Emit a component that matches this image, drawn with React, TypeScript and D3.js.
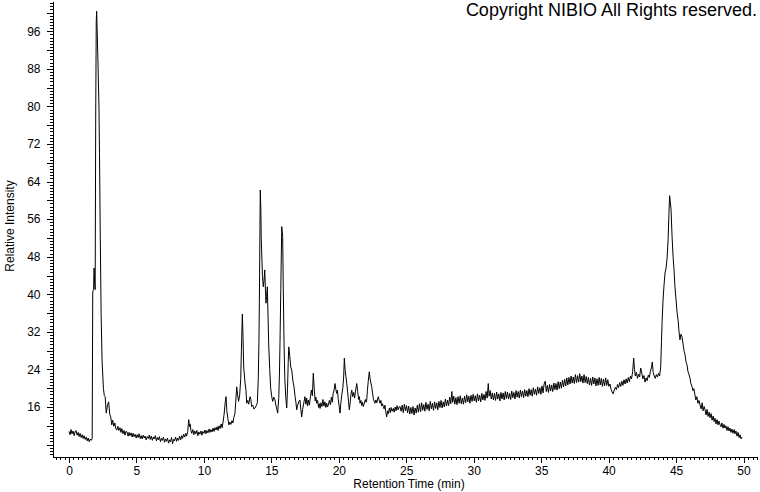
import React, { useEffect, useRef } from 'react'
import * as d3 from 'd3'

// retention time (min), relative intensity
const startBaseline: [number, number][] = [
  [0, 10.8], [0.08, 10.1], [0.15, 11.2], [0.22, 10.3], [0.3, 10.9], [0.38, 9.9], [0.45, 10.7], [0.52, 11.0],
  [0.6, 10.0], [0.68, 10.6], [0.75, 9.7], [0.82, 10.4], [0.9, 9.5], [0.98, 10.1], [1.05, 9.3], [1.12, 9.9],
  [1.2, 9.1], [1.28, 9.6], [1.35, 8.8], [1.42, 9.4], [1.5, 8.6], [1.58, 9.2], [1.65, 8.9], [1.72, 9.3]
]

const solventPeak: [number, number][] = [
  [1.74, 26], [1.76, 40.5], [1.82, 41], [1.86, 45.6], [1.9, 42.5], [1.94, 41], [1.98, 78], [2.02, 98],
  [2.05, 100.3], [2.1, 95], [2.15, 89], [2.22, 80], [2.26, 70], [2.32, 52], [2.38, 36], [2.45, 26],
  [2.55, 20], [2.62, 18.4], [2.68, 18.2], [2.76, 14.7], [2.86, 16.5], [2.94, 17.1], [3.02, 14.5], [3.1, 13.8],
  [3.17, 12.2], [3.24, 13.2], [3.32, 11.9], [3.4, 12.6], [3.47, 11.4], [3.54, 11.1], [3.62, 11.9], [3.7, 11.0],
  [3.78, 11.6]
]

const earlyBaseline: [number, number][] = [
  [3.85, 10.6], [3.92, 11.4], [4.0, 10.3], [4.08, 11.0], [4.15, 10.0], [4.22, 10.8], [4.3, 10.7], [4.38, 9.8],
  [4.45, 10.6], [4.52, 9.9], [4.6, 10.5], [4.68, 9.6], [4.75, 10.4], [4.82, 9.7], [4.9, 10.2], [4.98, 9.4],
  [5.05, 10.1], [5.12, 9.5], [5.2, 10.3], [5.28, 9.3], [5.35, 9.9], [5.42, 9.2], [5.5, 10.0], [5.58, 9.4],
  [5.65, 9.8], [5.72, 9.0], [5.8, 9.7], [5.88, 9.3], [5.95, 10.0], [6.02, 9.1], [6.1, 9.8], [6.18, 8.9],
  [6.25, 9.6], [6.32, 9.2], [6.4, 9.9], [6.48, 8.8], [6.55, 9.5], [6.62, 9.0], [6.7, 9.7], [6.78, 8.6],
  [6.85, 9.3], [6.92, 8.9], [7.0, 9.6], [7.08, 8.5], [7.15, 9.2], [7.22, 8.7], [7.3, 9.4], [7.38, 8.3],
  [7.45, 9.0], [7.52, 8.6], [7.6, 9.5], [7.68, 8.2], [7.75, 9.1], [7.82, 8.8], [7.9, 9.6], [7.98, 8.7],
  [8.05, 9.4], [8.12, 8.9], [8.2, 9.8], [8.28, 9.0], [8.35, 9.9], [8.42, 9.3], [8.5, 10.2], [8.58, 9.6],
  [8.65, 10.4], [8.72, 9.8], [8.8, 10.8], [8.85, 12.5], [8.88, 13.3], [8.93, 11.8], [8.98, 12.4], [9.04, 11.0],
  [9.1, 10.4], [9.18, 11.2], [9.25, 10.1], [9.32, 10.9], [9.4, 10.3], [9.48, 11.0], [9.55, 9.9], [9.62, 10.7],
  [9.7, 10.2], [9.78, 10.9], [9.85, 10.0], [9.92, 10.8], [10.0, 10.4], [10.08, 11.1], [10.15, 10.3], [10.22, 11.0],
  [10.3, 10.5], [10.38, 11.3], [10.45, 10.6], [10.52, 11.2], [10.6, 10.7], [10.68, 11.5], [10.75, 10.8], [10.82, 11.6],
  [10.9, 11.1], [10.98, 11.8], [11.05, 11.0], [11.12, 12.0], [11.2, 11.4], [11.28, 12.4], [11.35, 11.6]
]

const middlePeaks: [number, number][] = [
  [11.42, 12.8], [11.5, 14.5], [11.58, 17], [11.64, 18.2], [11.7, 15.2], [11.78, 13.5], [11.85, 12.2], [11.92, 12.8],
  [12.0, 12.3], [12.08, 13.1], [12.15, 12.6], [12.22, 13.8], [12.3, 14.6], [12.37, 17.5], [12.43, 20.3], [12.5, 18.6],
  [12.57, 17.2], [12.65, 18.5], [12.73, 22], [12.78, 28], [12.85, 35.8], [12.9, 31], [12.95, 24.5], [13.05, 21.1],
  [13.12, 19.5], [13.17, 16.8], [13.25, 17.4], [13.32, 16.6], [13.42, 18.2], [13.48, 17.6], [13.54, 16.1], [13.62, 16.4],
  [13.7, 15.6], [13.79, 15.8], [13.88, 16.3], [13.96, 16.9], [14.03, 22], [14.08, 30], [14.11, 38.1], [14.15, 52],
  [14.18, 62.2], [14.22, 58], [14.25, 52], [14.28, 49.4], [14.34, 44], [14.4, 41.6], [14.46, 43], [14.51, 45.2],
  [14.56, 41], [14.6, 38.1], [14.65, 39.5], [14.7, 41.6], [14.75, 36], [14.8, 29.6], [14.88, 24], [14.95, 20],
  [15.03, 18.2], [15.1, 17.2], [15.18, 18.1], [15.27, 17.5], [15.35, 16.2], [15.42, 15.4], [15.47, 14.7], [15.55, 18],
  [15.6, 23], [15.64, 29.6], [15.7, 41], [15.77, 54.4], [15.84, 52.3], [15.88, 42], [15.94, 29.6], [16.0, 22],
  [16.07, 18], [16.14, 15.8], [16.2, 20], [16.25, 25.5], [16.29, 28.8], [16.36, 27], [16.44, 24.5], [16.51, 23.9],
  [16.6, 21.5], [16.68, 20.3], [16.76, 18.2], [16.82, 17], [16.88, 15.4], [16.95, 16.4], [17.03, 17.1], [17.12, 17.5],
  [17.18, 15.6], [17.25, 13.9], [17.32, 15.5], [17.4, 16.8], [17.49, 18.2], [17.56, 16.6], [17.62, 17.9], [17.68, 16.2],
  [17.74, 17.5], [17.82, 16.4], [17.9, 18.3], [17.97, 19.6], [18.04, 18.4], [18.11, 23.2], [18.18, 19.8], [18.25, 17.3],
  [18.3, 18.1], [18.36, 16.8], [18.43, 17.4], [18.5, 15.9], [18.56, 16.7], [18.61, 15.7], [18.68, 16.9], [18.75, 16.1],
  [18.82, 17.6], [18.9, 16.2], [18.97, 17.1], [19.04, 15.9], [19.1, 16.8], [19.16, 16.0], [19.22, 16.4], [19.3, 17.4],
  [19.38, 16.5], [19.45, 18.1], [19.52, 17.0], [19.58, 18.9], [19.65, 19.6], [19.72, 21.0], [19.78, 19.8], [19.84, 18.9],
  [19.9, 19.6], [19.96, 17.6], [20.03, 16.1], [20.09, 14.7], [20.15, 16.8], [20.22, 18.6], [20.3, 20.1], [20.36, 22.4],
  [20.41, 26.4], [20.47, 23.8], [20.53, 22.5], [20.59, 21], [20.65, 19.4], [20.72, 17.2], [20.78, 15.4], [20.85, 17.1],
  [20.9, 18.7], [20.96, 19.6], [21.03, 18.2], [21.1, 19.1], [21.17, 17.9], [21.24, 19.4], [21.33, 21.0], [21.4, 19.3],
  [21.47, 17.6], [21.53, 18.2], [21.57, 16.8], [21.64, 17.4], [21.7, 16.3], [21.76, 17.0], [21.82, 16.1], [21.9, 16.9],
  [21.97, 17.6], [22.02, 17.0], [22.07, 17.5], [22.12, 19.5], [22.18, 21.4], [22.26, 23.5], [22.32, 22.0], [22.38, 21.1],
  [22.44, 20.3], [22.5, 19.0], [22.56, 17.8], [22.62, 17.2], [22.68, 16.8], [22.75, 17.5], [22.82, 16.9], [22.88, 17.8],
  [22.93, 18.2], [23.0, 17.3], [23.06, 16.8], [23.12, 17.4], [23.18, 16.2], [23.24, 16.7], [23.3, 16.1], [23.36, 15.6],
  [23.42, 16.4], [23.48, 15.0], [23.55, 13.9], [23.62, 15.2], [23.68, 14.6], [23.75, 15.8], [23.82, 14.8], [23.88, 15.9],
  [23.95, 15.1], [24.04, 15.7], [24.1, 14.9], [24.18, 16.0], [24.25, 15.2], [24.32, 16.3], [24.4, 15.4], [24.47, 16.0],
  [24.54, 16.1]
]

const lateBaseline: [number, number][] = [
  [24.62, 15.1], [24.7, 16.4], [24.78, 14.8], [24.86, 16.6], [24.94, 15.2], [25.02, 16.3], [25.1, 14.8], [25.18, 16.2],
  [25.26, 14.5], [25.34, 15.9], [25.42, 14.6], [25.5, 16.1], [25.58, 14.3], [25.66, 15.8], [25.74, 14.7], [25.82, 16.4],
  [25.9, 14.9], [25.98, 16.7], [26.06, 15.0], [26.14, 16.9], [26.22, 15.3], [26.3, 16.5], [26.38, 15.1], [26.46, 17.0],
  [26.54, 15.5], [26.62, 16.6], [26.7, 15.2], [26.78, 17.2], [26.86, 15.6], [26.94, 16.8], [27.02, 15.3], [27.1, 17.1],
  [27.18, 15.7], [27.26, 16.9], [27.34, 15.4], [27.42, 17.2], [27.5, 15.9], [27.58, 17.4], [27.66, 15.8], [27.74, 17.1],
  [27.82, 16.0], [27.9, 17.7], [27.98, 16.2], [28.06, 17.5], [28.14, 16.3], [28.22, 18.1], [28.3, 16.7], [28.38, 19.3],
  [28.44, 17.0], [28.52, 18.3], [28.6, 16.6], [28.68, 18.0], [28.76, 16.5], [28.84, 18.2], [28.92, 16.8], [29.0, 18.4],
  [29.08, 16.7], [29.16, 17.9], [29.24, 16.6], [29.32, 18.3], [29.4, 16.9], [29.48, 18.6], [29.56, 17.1], [29.64, 18.3],
  [29.72, 16.8], [29.8, 18.5], [29.88, 17.2], [29.96, 18.7], [30.04, 17.3], [30.12, 18.4], [30.2, 17.0], [30.28, 18.8],
  [30.36, 17.3], [30.44, 18.5], [30.52, 17.1], [30.6, 18.9], [30.68, 17.5], [30.76, 18.7], [30.84, 17.4], [30.92, 19.3],
  [31.0, 17.9], [31.08, 21.0], [31.14, 18.3], [31.22, 19.5], [31.3, 17.7], [31.38, 19.0], [31.46, 17.5], [31.54, 18.9],
  [31.62, 17.4], [31.7, 19.2], [31.78, 17.7], [31.86, 18.8], [31.94, 17.3], [32.02, 19.1], [32.1, 17.7], [32.18, 19.0],
  [32.26, 17.5], [32.34, 19.3], [32.42, 17.8], [32.5, 19.2], [32.58, 17.7], [32.66, 18.9], [32.74, 17.6], [32.82, 19.4],
  [32.9, 18.0], [32.98, 19.1], [33.06, 17.7], [33.14, 19.5], [33.22, 18.1], [33.3, 19.3], [33.38, 17.9], [33.46, 19.6],
  [33.54, 18.2], [33.62, 19.4], [33.7, 18.0], [33.78, 19.7], [33.86, 18.3], [33.94, 19.5], [34.02, 18.2], [34.1, 19.9],
  [34.18, 18.5], [34.26, 19.7], [34.34, 18.3], [34.42, 20.1], [34.5, 18.7], [34.58, 19.8], [34.66, 18.5], [34.74, 20.3],
  [34.82, 18.9], [34.9, 20.1], [34.98, 18.7], [35.06, 20.5], [35.14, 19.0], [35.22, 20.9], [35.3, 21.5], [35.38, 19.3],
  [35.46, 20.6], [35.54, 19.1], [35.62, 20.8], [35.7, 19.4], [35.78, 20.7], [35.86, 19.3], [35.94, 21.1], [36.02, 19.7],
  [36.1, 21.0], [36.18, 19.6], [36.26, 21.4], [36.34, 19.9], [36.42, 21.3], [36.5, 20.0], [36.58, 21.7], [36.66, 20.3],
  [36.74, 21.9], [36.82, 20.5], [36.9, 22.2], [36.98, 20.7], [37.06, 22.3], [37.14, 20.9], [37.22, 22.6], [37.3, 21.1],
  [37.38, 22.4], [37.46, 21.0], [37.54, 22.9], [37.62, 21.2], [37.7, 22.7], [37.78, 21.3], [37.86, 23.1], [37.94, 21.4],
  [38.02, 22.6], [38.1, 21.1], [38.18, 22.9], [38.26, 21.2], [38.34, 22.5], [38.42, 21.0], [38.5, 22.3], [38.58, 20.7],
  [38.66, 22.1], [38.74, 20.6], [38.82, 22.4], [38.9, 20.9], [38.98, 22.2], [39.06, 20.5], [39.14, 22.0], [39.22, 20.6],
  [39.3, 22.3], [39.38, 20.7], [39.46, 22.1], [39.54, 20.4], [39.62, 21.9], [39.7, 20.5], [39.78, 22.2], [39.86, 20.6],
  [39.94, 21.8], [40.02, 20.4], [40.1, 20.9], [40.18, 19.8], [40.26, 19.2], [40.34, 18.8], [40.42, 19.6], [40.5, 20.2],
  [40.58, 19.7], [40.66, 20.8], [40.74, 20.1], [40.82, 21.2], [40.9, 20.4], [40.98, 21.5], [41.06, 20.6], [41.14, 21.8],
  [41.22, 20.9], [41.3, 22.0], [41.38, 21.1], [41.46, 22.3], [41.54, 21.4], [41.62, 22.6], [41.7, 22.0], [41.78, 23.5],
  [41.86, 26.4], [41.92, 24.0], [41.98, 22.6], [42.06, 23.4], [42.14, 22.1], [42.22, 23.0], [42.3, 22.4], [42.38, 24.3],
  [42.46, 23.2], [42.54, 22.0], [42.62, 22.7], [42.7, 21.3], [42.78, 22.2], [42.86, 21.6], [42.94, 22.8], [43.02, 22.3],
  [43.1, 23.6], [43.18, 24.5], [43.24, 25.6], [43.3, 23.4], [43.38, 22.6], [43.46, 22.1], [43.54, 22.9], [43.62, 22.4],
  [43.7, 23.2], [43.78, 22.6]
]

const latePeak: [number, number][] = [
  [43.86, 24.5], [43.92, 30], [43.97, 34.5], [44.04, 39], [44.11, 42], [44.18, 44.5], [44.26, 45.6], [44.33, 47.5],
  [44.41, 51.6], [44.47, 57], [44.52, 61], [44.58, 59.5], [44.63, 58], [44.7, 52.6], [44.78, 48], [44.85, 45.2],
  [44.92, 41.5], [45.0, 38.8], [45.08, 36], [45.15, 34.5], [45.22, 32], [45.29, 30.3], [45.36, 31.5], [45.44, 31],
  [45.52, 29.4], [45.59, 28], [45.66, 27.2], [45.74, 25.6], [45.81, 25], [45.88, 23.6], [45.95, 23.0], [46.03, 22.2],
  [46.1, 21.0], [46.18, 20.4], [46.25, 19.5], [46.32, 19.9], [46.4, 18.6], [46.47, 17.5], [46.54, 18.2], [46.62, 16.8],
  [46.7, 17.4], [46.78, 16.4], [46.86, 15.6], [46.94, 16.9], [47.0, 15.2], [47.08, 16.1], [47.15, 15.4], [47.22, 14.3],
  [47.3, 15.5], [47.37, 14.0], [47.45, 14.9], [47.52, 13.7], [47.6, 14.6], [47.67, 13.2], [47.75, 14.1], [47.82, 12.9],
  [47.89, 13.6], [47.96, 12.4], [48.04, 13.3], [48.11, 12.2], [48.18, 13.0], [48.26, 12.2], [48.33, 11.8], [48.4, 12.6],
  [48.48, 11.5], [48.55, 12.3], [48.63, 11.5], [48.7, 12.0], [48.78, 11.0], [48.85, 11.8], [48.92, 10.9], [49.0, 11.5],
  [49.07, 10.6], [49.14, 11.3], [49.22, 10.4], [49.3, 11.2], [49.37, 10.3], [49.44, 10.9], [49.52, 9.8], [49.6, 10.6],
  [49.67, 9.5], [49.74, 10.1], [49.82, 9.2], [49.9, 9.6]
]

const yLabels = [16, 24, 32, 40, 48, 56, 64, 72, 80, 88, 96]
const xLabels = [0, 5, 10, 15, 20, 25, 30, 35, 40, 45, 50]

const FONT = '"Liberation Sans", Arial, sans-serif'

export default function App() {
  const ref = useRef<SVGSVGElement>(null)

  useEffect(() => {
    const svg = d3.select(ref.current)
    svg.selectAll('*').remove()

    const plot = { left: 52, right: 757, top: 1, bottom: 456 }

    const x = d3.scaleLinear().domain([-1.26, 51.0]).range([plot.left, plot.right])
    const y = d3.scaleLinear().domain([5.57, 102.45]).range([plot.bottom, plot.top])

    const data = [...startBaseline, ...solventPeak, ...earlyBaseline, ...middlePeaks, ...lateBaseline, ...latePeak]

    // y axis: minor every 2/3, medium every 4, labels every 8
    const yMinor = d3.range(6, 102.4, 2 / 3)
    const yMid = d3.range(8, 101, 4)
    const yAxisG = svg.append('g').attr('transform', `translate(${plot.left + 0.5},0)`)
    yAxisG.append('g').call(d3.axisLeft(y).tickValues(yMinor).tickSize(3).tickSizeOuter(0).tickFormat(() => ''))
    yAxisG.append('g').call(d3.axisLeft(y).tickValues(yMid).tickSize(6).tickSizeOuter(0).tickFormat(() => ''))
    yAxisG.append('g').call(
      d3.axisLeft(y).tickValues(yLabels).tickSize(6).tickSizeOuter(0).tickPadding(6).tickFormat(d => String(d))
    )

    // x axis: minor every 1/3 min, labels every 5
    const xMinor = d3.range(-1, 51.01, 1 / 3)
    const xAxisG = svg.append('g').attr('transform', `translate(0,${plot.bottom + 0.5})`)
    xAxisG.append('g').call(d3.axisBottom(x).tickValues(xMinor).tickSize(3).tickSizeOuter(0).tickFormat(() => ''))
    xAxisG.append('g').call(
      d3.axisBottom(x).tickValues(xLabels).tickSize(6).tickSizeOuter(0).tickPadding(4).tickFormat(d => String(d))
    )

    svg.selectAll('.tick line').attr('stroke', '#000').attr('shape-rendering', 'crispEdges')
    svg.selectAll('.domain').attr('stroke', '#000').attr('shape-rendering', 'crispEdges')
    svg.selectAll('.tick text').attr('font-family', FONT).attr('font-size', 12).attr('fill', '#000')

    // trace
    const line = d3.line<[number, number]>()
      .x(d => x(d[0]))
      .y(d => y(d[1]))

    svg.append('path')
      .datum(data)
      .attr('fill', 'none')
      .attr('stroke', '#000')
      .attr('stroke-width', 1)
      .attr('d', line)

    // titles
    svg.append('text')
      .attr('x', 409)
      .attr('y', 488)
      .attr('text-anchor', 'middle')
      .attr('font-family', FONT)
      .attr('font-size', 12)
      .text('Retention Time (min)')

    svg.append('text')
      .attr('transform', 'translate(13.5,226) rotate(-90)')
      .attr('text-anchor', 'middle')
      .attr('font-family', FONT)
      .attr('font-size', 12)
      .text('Relative Intensity')

    svg.append('text')
      .attr('x', 757)
      .attr('y', 16)
      .attr('text-anchor', 'end')
      .attr('font-family', FONT)
      .attr('font-size', 18)
      .text('Copyright NIBIO All Rights reserved.')
  }, [])

  return (
    <svg
      ref={ref}
      width={760}
      height={492}
      style={{ position: 'absolute', left: 0, top: 0, background: '#fff' }}
    />
  )
}
